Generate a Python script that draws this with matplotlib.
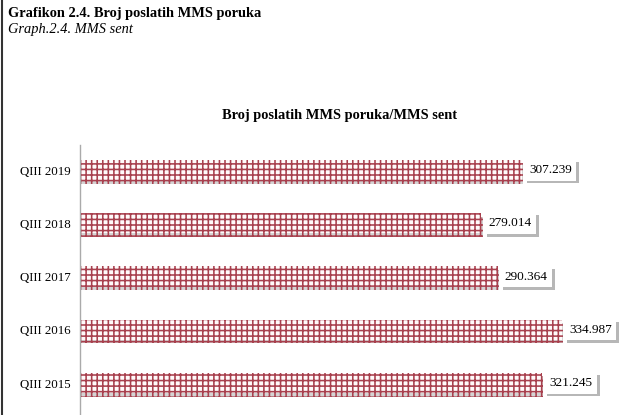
import matplotlib
matplotlib.use("Agg")
import matplotlib.pyplot as plt
import matplotlib.patheffects as pe
from matplotlib.lines import Line2D

categories = ["QIII 2015", "QIII 2016", "QIII 2017", "QIII 2018", "QIII 2019"]
values = [321.245, 334.987, 290.364, 279.014, 307.239]
labels = ["321.245", "334.987", "290.364", "279.014", "307.239"]

plt.rcParams['hatch.linewidth'] = 1.15
plt.rcParams['font.family'] = ['Liberation Serif', 'DejaVu Serif']

fig = plt.figure(figsize=(6.27, 4.15), dpi=100)
W, H = 627, 415
ax = fig.add_axes([80 / W, 0, 545 / W, (415 - 145) / H])

hatch_col = '#a8404e'
bars = ax.barh(range(len(categories)), values, height=0.38, color='#fffafa',
               edgecolor=hatch_col, hatch='+++', linewidth=0)
for b in bars:
    b.set_path_effects([pe.SimplePatchShadow(offset=(1, -2.5), shadow_rgbFace='#aaaaaa', alpha=0.5),
                        pe.Normal()])

ax.set_xlim(0, 379)
ax.set_ylim(-0.6, 4.47)
ax.set_yticks(range(len(categories)))
ax.set_yticklabels(categories, fontsize=9.3)
ax.tick_params(axis='y', length=0, pad=7)
ax.set_xticks([])
for s in ['top', 'right', 'bottom']:
    ax.spines[s].set_visible(False)
ax.spines['left'].set_color('#aaaaaa')
ax.spines['left'].set_linewidth(1)

for i, (v, lab) in enumerate(zip(values, labels)):
    t = ax.text(v + 5, i, lab, va='center', ha='left', fontsize=9.5,
                bbox=dict(boxstyle='square,pad=0.35', fc='white', ec='none'))
    t.get_bbox_patch().set_path_effects([pe.SimplePatchShadow(offset=(2, -2), shadow_rgbFace='#888888', alpha=0.6),
                                         pe.Normal()])

fig.text(340 / W, 1 - 115 / H, "Broj poslatih MMS poruka/MMS sent", ha='center', va='center',
         fontsize=10.4, fontweight='bold')
fig.text(8 / W, 1 - 13 / H, "Grafikon 2.4. Broj poslatih MMS poruka", ha='left', va='center',
         fontsize=10.4, fontweight='bold')
fig.text(8 / W, 1 - 30 / H, "Graph.2.4. MMS sent", ha='left', va='center',
         fontsize=10.4, fontstyle='italic')

fig.add_artist(Line2D([1.5 / W, 1.5 / W], [0, 1], color='#333333', linewidth=1.5))

fig.savefig("out.png", dpi=100)
